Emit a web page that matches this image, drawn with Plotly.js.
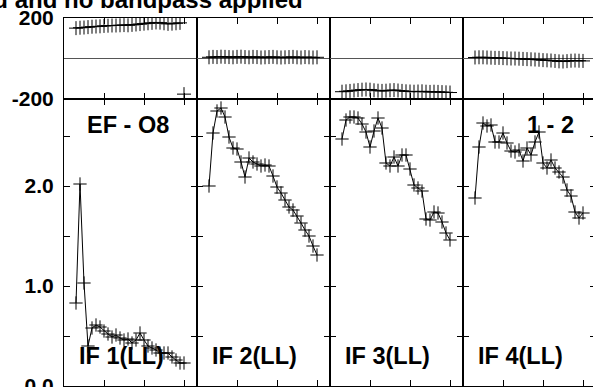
<!DOCTYPE html>
<html>
<head>
<meta charset="utf-8">
<script src="https://cdn.plot.ly/plotly-3.0.1.min.js"></script>
<style>
html,body{margin:0;padding:0;overflow:hidden;background:#fff;width:593px;height:387px;}
#chart{width:600px;height:400px;}
</style>
</head>
<body>
<div id="chart"></div>
<script>
// ---- data ----
const channels = [3,4,5,6,7,8,9,10,11,12,13,14,15,16,17,18,19,20,21,22,23,24,25,26,27,28,29,30];
const ifLabels = ["IF 1(LL)","IF 2(LL)","IF 3(LL)","IF 4(LL)"];
const titleText = "ed and no bandpass applied";
const baselineLabel = "EF - O8";
const pairLabel = "1 - 2";
const phaseTickVals = [-200, 200];
const phaseTickText = ["-200", "200"];
const ampTickVals = [0, 0.5, 1.0, 1.5, 2.0, 2.5];
const ampTickText = ["0.0", "", "1.0", "", "2.0", ""];
const xTickVals = [10, 20, 30];

const phaseIF1 = [150,152,153,155,157,158,159,161,162,163,163,164,165,164,166,168,170,172,174,176,178,177,174,171,172,174,176,-176];
const phaseIF2 = [6,8,7,9,8,7,6,8,9,7,6,8,7,5,6,7,8,6,5,6,7,8,6,5,7,6,5,6];
const phaseIF3 = [-164,-162,-160,-158,-156,-154,-153,-154,-157,-159,-160,-159,-157,-156,-158,-160,-162,-163,-164,-163,-162,-164,-165,-164,-165,-166,-167,-168];
const phaseIF4 = [5,6,6,5,4,3,3,2,1,0,0,-1,-2,-3,-4,-5,-6,-8,-9,-10,-12,-14,-15,-13,-11,-10,-11,-12];

const ampIF1 = [0.83,2.02,1.03,0.40,0.58,0.61,0.59,0.55,0.52,0.49,0.51,0.48,0.46,0.47,0.43,0.46,0.53,0.46,0.40,0.38,0.36,0.33,0.33,0.33,0.29,0.26,0.23,0.23];
const ampIF2 = [2.00,2.53,2.75,2.78,2.69,2.49,2.38,2.37,2.24,2.09,2.28,2.24,2.22,2.20,2.21,2.20,2.10,1.99,1.93,1.86,1.79,1.76,1.70,1.63,1.56,1.50,1.40,1.31];
const ampIF3 = [2.47,2.66,2.69,2.69,2.68,2.62,2.54,2.39,2.55,2.68,2.58,2.23,2.20,2.29,2.20,2.31,2.31,2.17,2.01,1.98,1.95,1.67,1.66,1.74,1.73,1.64,1.53,1.46];
const ampIF4 = [1.88,2.39,2.63,2.60,2.61,2.44,2.44,2.53,2.43,2.35,2.34,2.36,2.25,2.38,2.31,2.44,2.54,2.23,2.18,2.26,2.18,2.14,2.09,1.96,1.90,1.74,1.68,1.73];

const phases = [phaseIF1, phaseIF2, phaseIF3, phaseIF4];
const amps = [ampIF1, ampIF2, ampIF3, ampIF4];

// ---- build ----
const W = 600, H = 400;
const M = {l:64, r:4, t:18, b:14};
const PW = W - M.l - M.r, PH = H - M.t - M.b;
const phaseFrac = 81 / PH;       // phase strip height
const split = 1 - phaseFrac;

// break line across phase wraps
function wrapBreak(xs, ys){
  const ox = [], oy = [];
  for (let i = 0; i < xs.length; i++){
    if (i > 0 && Math.abs(ys[i] - ys[i-1]) > 180){ ox.push(null); oy.push(null); }
    ox.push(xs[i]); oy.push(ys[i]);
  }
  return {x: ox, y: oy};
}

const traces = [];
const marker = (s) => ({symbol:'cross-thin', size:s, color:'black', line:{color:'black', width:1}});
for (let i = 0; i < 4; i++){
  const pa = i === 0 ? '' : String(i+1);
  const aa = String(i+5);
  const w = wrapBreak(channels, phases[i]);
  traces.push({x:w.x, y:w.y, xaxis:'x'+pa, yaxis:'y'+pa, mode:'lines+markers', connectgaps:false,
    line:{color:'black', width:1}, marker:marker(10), hoverinfo:'skip', showlegend:false});
  traces.push({x:channels, y:amps[i], xaxis:'x'+aa, yaxis:'y'+aa, mode:'lines+markers',
    line:{color:'black', width:1}, marker:marker(9.5), hoverinfo:'skip', showlegend:false});
}

const tickFont = {family:'Liberation Sans, Arial, sans-serif', size:21, color:'black', weight:'bold'};
const layout = {
  width: W, height: H,
  margin: M,
  paper_bgcolor:'white', plot_bgcolor:'white',
  showlegend:false,
  annotations: [],
};
function xAx(i, anchor){
  return {domain:[i*0.25, (i+1)*0.25], range:[0, 33.25], anchor:anchor,
    showline:true, mirror:'allticks', linecolor:'black', linewidth:1,
    ticks:'inside', ticklen:6, tickcolor:'black', tickvals:xTickVals,
    showticklabels:false, showgrid:false, zeroline:false, fixedrange:true};
}
function yAx(i, anchor, dom, range, tv, tt, zero){
  return {domain:dom, range:range, anchor:anchor,
    showline:true, mirror:'allticks', linecolor:'black', linewidth:1,
    ticks:'inside', ticklen:6, tickcolor:'black', tickvals:tv, ticktext:tt,
    showticklabels: i === 0, tickfont:tickFont, ticklabelstandoff:5,
    showgrid:false, zeroline:zero, zerolinecolor:'#555', zerolinewidth:1, fixedrange:true};
}
for (let i = 0; i < 4; i++){
  const pa = i === 0 ? '' : String(i+1);
  const aa = String(i+5);
  layout['xaxis'+pa] = xAx(i, 'y'+pa);
  layout['yaxis'+pa] = yAx(i, 'x'+pa, [split, 1], [-200, 200], phaseTickVals, phaseTickText, true);
  layout['xaxis'+aa] = xAx(i, 'y'+aa);
  layout['yaxis'+aa] = yAx(i, 'x'+aa, [0, split], [0, 2.87], ampTickVals, ampTickText, false);
}

const px = (p) => (p - M.l) / PW;
const py = (p) => (H - M.b - p) / PH;
const labFont = {family:'Liberation Sans, Arial, sans-serif', size:23.5, color:'black', weight:'bold'};
for (let i = 0; i < 4; i++){
  layout.annotations.push({text:ifLabels[i], xref:'paper', yref:'paper', x: i*0.25 + 13/PW, y: py(356),
    xanchor:'left', yanchor:'middle', showarrow:false, font:labFont});
}
layout.annotations.push({text:baselineLabel, xref:'paper', yref:'paper', x:px(128), y:py(125),
  xanchor:'center', yanchor:'middle', showarrow:false, font:labFont});
layout.annotations.push({text:pairLabel, xref:'paper', yref:'paper', x:px(550), y:py(125),
  xanchor:'center', yanchor:'middle', showarrow:false, font:labFont});
layout.annotations.push({text:titleText, xref:'paper', yref:'paper', x:px(305), y:py(-1),
  xanchor:'right', yanchor:'middle', showarrow:false,
  font:{family:'Liberation Sans, Arial, sans-serif', size:24, color:'black', weight:'bold'}});

Plotly.newPlot('chart', traces, layout, {staticPlot:true, displayModeBar:false});
</script>
</body>
</html>
